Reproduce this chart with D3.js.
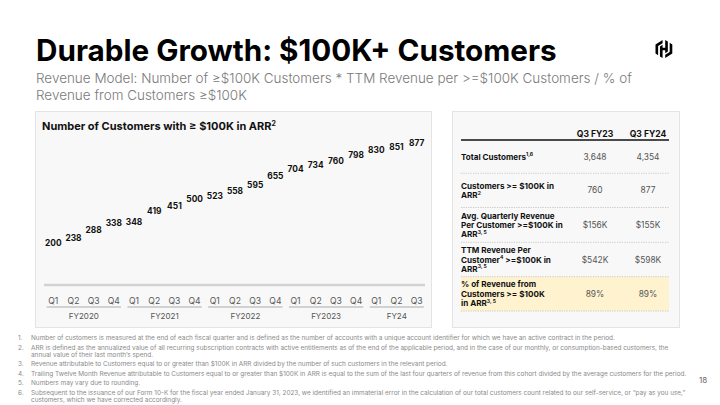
<!DOCTYPE html>
<html><head><meta charset="utf-8">
<script src="https://cdn.jsdelivr.net/npm/d3@7/dist/d3.min.js"></script>
<style>
html,body{margin:0;padding:0;background:#fff;}
svg{display:block;font-family:Inter, "Open Sans", sans-serif;}
</style></head>
<body><svg id="c" width="720" height="405"></svg>
<script>
// ---------- DATA ----------
const quarters = ["Q1","Q2","Q3","Q4","Q1","Q2","Q3","Q4","Q1","Q2","Q3","Q4","Q1","Q2","Q3","Q4","Q1","Q2","Q3"];
const fiscalYears = ["FY2020","FY2021","FY2022","FY2023","FY24"];
const quarterFY = [0,0,0,0,1,1,1,1,2,2,2,2,3,3,3,3,4,4,4];
const customers100k = [200,238,288,338,348,419,451,500,523,558,595,655,704,734,760,798,830,851,877];

const tableHeaders = ["Q3 FY23","Q3 FY24"];
const rowLabels = [
  [["Total Customers","1,6"]],
  [["Customers >= $100K in",""],["ARR","2"]],
  [["Avg. Quarterly Revenue",""],["Per Customer >=$100K in",""],["ARR","3, 5"]],
  [["TTM Revenue Per",""],["Customer","4",">=$100K in"],["ARR","3, 5"]],
  [["% of Revenue from",""],["Customers >= $100K",""],["in ARR","3, 5"]]
];
const valuesFY23 = ["3,648","760","$156K","$542K","89%"];
const valuesFY24 = ["4,354","877","$155K","$598K","89%"];

const footnotes = [
  ["Number of customers is measured at the end of each fiscal quarter and is defined as the number of accounts with a unique account identifier for which we have an active contract in the period."],
  ["ARR is defined as the annualized value of all recurring subscription contracts with active entitlements as of the end of the applicable period, and in the case of our monthly, or consumption-based customers, the","annual value of their last month\u2019s spend."],
  ["Revenue attributable to Customers equal to or greater than $100K in ARR divided by the number of such customers in the relevant period."],
  ["Trailing Twelve Month Revenue attributable to Customers equal to or greater than $100K in ARR is equal to the sum of the last four quarters of revenue from this cohort divided by the average customers for the period."],
  ["Numbers may vary due to rounding."],
  ["Subsequent to the issuance of our Form 10-K for the fiscal year ended January 31, 2023, we identified an immaterial error in the calculation of our total customers count related to our self-service, or \u201cpay as you use,\u201d","customers, which we have corrected accordingly."]
];

// ---------- DRAW ----------
const svg = d3.select("#c");
function fit(sel, w){ const n=sel.node(); const cur=n.getComputedTextLength(); const fs=parseFloat(sel.attr("font-size")); sel.attr("font-size", (fs*w/cur).toFixed(2)); }

// Title
const title = svg.append("text").attr("x",36).attr("y",61).attr("font-size",28).attr("font-weight",700).attr("fill","#000")
  .text("Durable Growth: $100K+ Customers");
fit(title, 521);
const sub1 = svg.append("text").attr("x",36).attr("y",83).attr("font-size",14).attr("fill","#7a7a7a").attr("font-weight",300)
  .text("Revenue Model: Number of \u2265$100K Customers * TTM Revenue per >=$100K Customers / % of");
fit(sub1, 596);
svg.append("text").attr("x",36).attr("y",100).attr("font-size",sub1.attr("font-size")).attr("fill","#7a7a7a").attr("font-weight",300)
  .text("Revenue from Customers \u2265$100K");

// Logo
const logo = svg.append("g").attr("transform","translate(655.5,40) scale(0.7,0.75)").attr("fill","#000");
logo.append("path").attr("d","M10.114 0L0 5.838v12.322l3.748 2.162V8l6.366-3.676z");
logo.append("path").attr("d","M13.886 0v10.317h-3.772V6.462L6.366 8.627v13.207l3.748 2.166V13.7h3.772v3.844l3.748-2.162V2.166z");
logo.append("path").attr("d","M13.886 24L24 18.162V5.838l-3.748-2.162V16l-6.366 3.676z");

// Panels
svg.append("rect").attr("x",35.5).attr("y",111.5).attr("width",396).attr("height",216).attr("fill","#f8f8f8").attr("stroke","#e4e4e4");
svg.append("rect").attr("x",452.5).attr("y",111.5).attr("width",227).attr("height",216).attr("fill","#f8f8f8").attr("stroke","#e4e4e4");

// Chart title
const ct = svg.append("text").attr("x",42).attr("y",130).attr("font-size",11.5).attr("font-weight",700).attr("fill","#111");
ct.append("tspan").text("Number of Customers with \u2265 $100K in ARR");
ct.append("tspan").attr("font-size",7).attr("dy",-4).text("2");
fit(ct, 234);

const x = d3.scaleBand().domain(d3.range(quarters.length)).range([43.2, 426.8]).padding(0);
const y = d3.scaleLinear().domain([0,1000]).range([282,134.3]);

// bars (same tone as the panel, as in the reference)
svg.append("g").selectAll("rect").data(customers100k).join("rect")
  .attr("x",(d,i)=>x(i)+2).attr("width",x.bandwidth()-4)
  .attr("y",d=>y(d)).attr("height",d=>y(0)-y(d)).attr("fill","#f8f8f8");

svg.append("g").selectAll("text").data(customers100k).join("text")
  .attr("x",(d,i)=>x(i)+x.bandwidth()/2).attr("y",d=>y(d)-6)
  .attr("text-anchor","middle").attr("font-size",8.4).attr("font-weight",700).attr("fill","#111")
  .text(d=>d);

// baseline
svg.append("line").attr("x1",44).attr("x2",425).attr("y1",285).attr("y2",285).attr("stroke","#d2d2d2").attr("stroke-width",2.5);

// quarter labels
svg.append("g").selectAll("text").data(quarters).join("text")
  .attr("x",(d,i)=>x(i)+x.bandwidth()/2).attr("y",303.5)
  .attr("text-anchor","middle").attr("font-size",8.6).attr("fill","#555").text(d=>d);

// fiscal year groups
fiscalYears.forEach((fy,k)=>{
  const idx = d3.range(quarters.length).filter(i=>quarterFY[i]===k);
  const x0 = x(idx[0])+3.5, x1 = x(idx[idx.length-1])+x.bandwidth()-3;
  svg.append("line").attr("x1",x0).attr("x2",x1).attr("y1",307).attr("y2",307).attr("stroke","#c4c4c4").attr("stroke-width",1.5);
  svg.append("text").attr("x",(x0+x1)/2).attr("y",319).attr("text-anchor","middle").attr("font-size",8).attr("fill","#555").text(fy);
});

// ---------- TABLE ----------
const tx0 = 461, tx1 = 669;
const colX = [595, 648];
tableHeaders.forEach((h,i)=>svg.append("text").attr("x",colX[i]).attr("y",136.5).attr("text-anchor","middle")
  .attr("font-size",8.6).attr("font-weight",700).attr("fill","#111").text(h));
svg.append("line").attr("x1",tx0).attr("x2",tx1).attr("y1",140).attr("y2",140).attr("stroke","#111").attr("stroke-width",1.6);

const rowBounds = [[140,173.3],[173.3,207.5],[207.5,242.3],[242.3,276.7],[276.7,311]];
svg.append("rect").attr("x",tx0).attr("y",rowBounds[4][0]).attr("width",tx1-tx0).attr("height",rowBounds[4][1]-rowBounds[4][0]).attr("fill","#fff3cf");
rowBounds.forEach((b,r)=>{
  svg.append("line").attr("x1",tx0).attr("x2",tx1).attr("y1",b[1]).attr("y2",b[1]).attr("stroke","#bdbdbd").attr("stroke-width",0.8).attr("stroke-dasharray","1.2,1.2");
  const lines = rowLabels[r];
  const lh = 9.4;
  const cy = (b[0]+b[1])/2;
  const top = cy - (lines.length-1)*lh/2;
  lines.forEach((ln,j)=>{
    const t = svg.append("text").attr("x",tx0).attr("y",top+j*lh+3).attr("font-size",8.1).attr("font-weight",700).attr("fill","#111");
    t.append("tspan").text(ln[0]);
    if(ln[1]) t.append("tspan").attr("font-size",5).attr("dy",-3.5).text(ln[1]);
    if(ln[2]) t.append("tspan").attr("dy",3.5).text(" "+ln[2]);
  });
  [valuesFY23[r], valuesFY24[r]].forEach((v,i)=>svg.append("text").attr("x",colX[i]).attr("y",cy+3)
    .attr("text-anchor","middle").attr("font-size",8.4).attr("fill","#555").text(v));
});

// ---------- FOOTNOTES ----------
const fnY = [[338],[347.5,355],[364],[373.5],[383],[392.5,400]];
let fs = null;
footnotes.forEach((lines,k)=>{
  svg.append("text").attr("x",18).attr("y",fnY[k][0]+2).attr("font-size",5.8).attr("fill","#8a8a8a").text((k+1)+".");
  lines.forEach((ln,j)=>{
    const t = svg.append("text").attr("x",31).attr("y",fnY[k][j]+2).attr("font-size",5.8).attr("fill","#8a8a8a").text(ln);
    if(k===3 && j===0){ fit(t,656); fs=t.attr("font-size"); }
  });
});
svg.selectAll("text").filter(function(){return +d3.select(this).attr("y")>335 && d3.select(this).attr("fill")==="#8a8a8a";}).attr("font-size",fs);

svg.append("text").attr("x",703).attr("y",383).attr("text-anchor","middle").attr("font-size",8).attr("fill","#666").text("18");
</script></body></html>
